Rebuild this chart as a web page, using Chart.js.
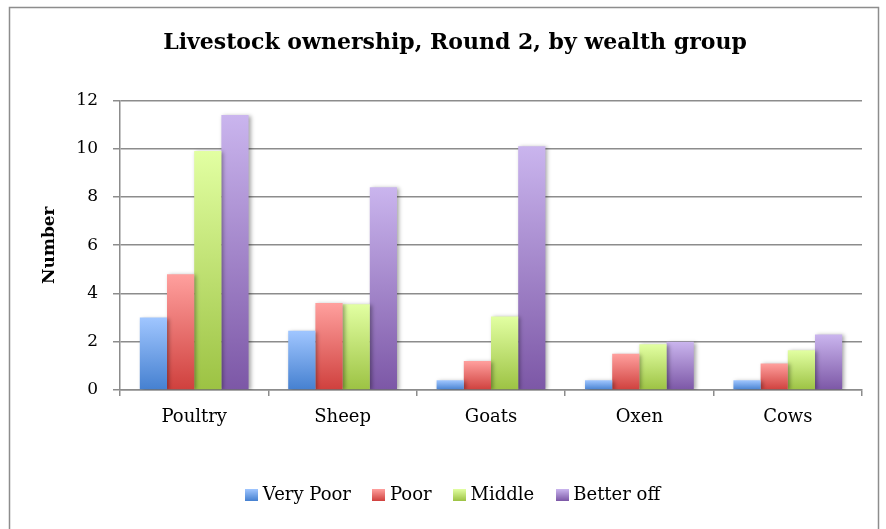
<!DOCTYPE html>
<html>
<head>
<meta charset="utf-8">
<script src="https://cdn.jsdelivr.net/npm/chart.js@4/dist/chart.umd.min.js"></script>
<style>
  html, body { margin: 0; padding: 0; background: #fff; }
  #wrap { width: 886px; height: 529px; }
</style>
</head>
<body>
<div id="wrap"><canvas id="chart"></canvas></div>
<script>
const categories = ['Poultry', 'Sheep', 'Goats', 'Oxen', 'Cows'];
const groups = ['Very Poor', 'Poor', 'Middle', 'Better off'];
const veryPoor = [3.0, 2.45, 0.4, 0.4, 0.4];
const poor = [4.8, 3.6, 1.2, 1.5, 1.1];
const middle = [9.9, 3.55, 3.05, 1.9, 1.65];
const betterOff = [11.4, 8.4, 10.1, 2.0, 2.3];
const yTicks = [0, 2, 4, 6, 8, 10, 12];

// light top / dark bottom for each wealth group
const shades = [
  ['#a0c6ff', '#4580d0'],
  ['#ffa09e', '#cf403d'],
  ['#e2ffa2', '#9cc243'],
  ['#cab5ee', '#7c57a6']
];

const serif = '"DejaVu Serif", serif';
const gridGrey = '#8c8c8c';

function barFill(shade) {
  return ctx => {
    const chart = ctx.chart;
    const y = chart.scales.y;
    if (!chart.chartArea || !y || ctx.type !== 'data') return shade[1];
    const top = y.getPixelForValue(ctx.raw);
    const base = y.getPixelForValue(0);
    const g = chart.ctx.createLinearGradient(0, top, 0, base);
    g.addColorStop(0, shade[0]);
    g.addColorStop(1, shade[1]);
    return g;
  };
}

function swatch(shade) {
  const c = document.createElement('canvas');
  c.width = 13;
  c.height = 12;
  const g = c.getContext('2d');
  const grad = g.createLinearGradient(0, 0, 0, 12);
  grad.addColorStop(0, shade[0]);
  grad.addColorStop(1, shade[1]);
  g.fillStyle = grad;
  g.fillRect(0, 0, 13, 12);
  return c;
}
const swatches = shades.map(swatch);

const barShadow = {
  id: 'barShadow',
  beforeDatasetsDraw(chart) {
    const c = chart.ctx;
    c.save();
    c.shadowColor = 'rgba(0, 0, 0, 0.35)';
    c.shadowBlur = 4;
    c.shadowOffsetX = 2;
    c.shadowOffsetY = 1;
  },
  afterDatasetsDraw(chart) {
    chart.ctx.restore();
  }
};

const frame = {
  id: 'frame',
  afterDraw(chart) {
    const c = chart.ctx;
    c.save();
    c.strokeStyle = '#8d8d8d';
    c.lineWidth = 1.5;
    c.strokeRect(9.5, 7.5, 869, 540);
    c.restore();
  }
};

const seriesValues = [veryPoor, poor, middle, betterOff];

new Chart(document.getElementById('chart'), {
  type: 'bar',
  data: {
    labels: categories,
    datasets: groups.map((name, i) => ({
      label: name,
      data: seriesValues[i],
      backgroundColor: barFill(shades[i]),
      borderWidth: 0,
      categoryPercentage: 0.733,
      barPercentage: 1.0
    }))
  },
  plugins: [barShadow, frame],
  options: {
    responsive: true,
    maintainAspectRatio: false,
    animation: false,
    layout: { padding: { left: 48, right: 24, top: 0, bottom: 15 } },
    plugins: {
      title: {
        display: true,
        text: 'Livestock ownership, Round 2, by wealth group',
        color: '#000',
        font: { family: serif, size: 22, weight: 'bold', lineHeight: 1.2 },
        padding: { top: 30, bottom: 44 }
      },
      legend: {
        position: 'bottom',
        labels: {
          color: '#000',
          font: { family: serif, size: 18 },
          usePointStyle: true,
          pointStyleWidth: 4,
          padding: 26,
          generateLabels: chart => chart.data.datasets.map((ds, i) => ({
            text: ds.label,
            pointStyle: swatches[i],
            fillStyle: shades[i][1],
            strokeStyle: 'transparent',
            lineWidth: 0,
            hidden: false,
            datasetIndex: i
          }))
        }
      },
      tooltip: { enabled: false }
    },
    scales: {
      x: {
        grid: { display: true, drawOnChartArea: false, color: gridGrey, lineWidth: 1.5, tickLength: 6 },
        border: { display: true, color: gridGrey, width: 1.5 },
        ticks: { color: '#000', font: { family: serif, size: 18 }, padding: 11, maxRotation: 0, autoSkip: false },
        afterFit: s => { s.height = 70; }
      },
      y: {
        min: 0,
        max: 12,
        afterBuildTicks: s => { s.ticks = yTicks.map(v => ({ value: v })); },
        grid: { color: gridGrey, lineWidth: 1.5, tickLength: 7 },
        border: { display: true, color: gridGrey, width: 1.5 },
        ticks: { color: '#000', font: { family: serif, size: 17 }, padding: 15 },
        title: {
          display: true,
          text: 'Number',
          color: '#000',
          font: { family: serif, size: 17, weight: 'bold', lineHeight: 1.2 },
          padding: { top: -9, bottom: 0 }
        },
        afterFit: s => { s.width = 72; }
      }
    }
  }
});
</script>
</body>
</html>
